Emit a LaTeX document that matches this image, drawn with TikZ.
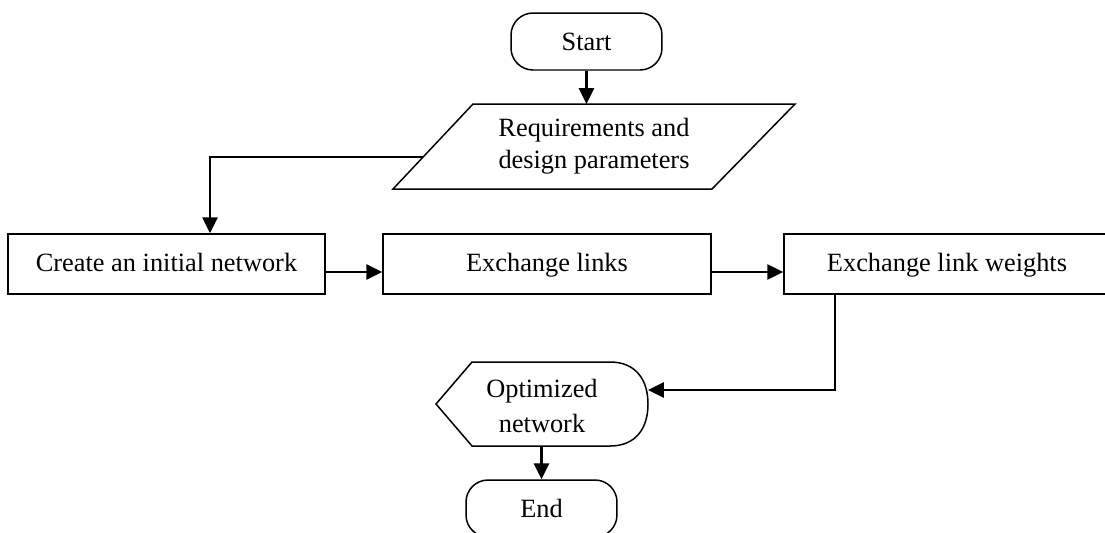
\documentclass[tikz,border=0pt]{standalone}
\usepackage{fontspec}
\setmainfont{Liberation Serif}
\usetikzlibrary{arrows.meta}
\begin{document}
\begin{tikzpicture}[x=0.02cm,y=-0.02cm,
  every node/.style={font=\fontsize{15}{18}\selectfont, align=center},
  box/.style={draw, line width=0.85pt, minimum height=1.2cm, inner sep=0pt, text height=11.5pt, text depth=3.5pt},
  term/.style={draw, line width=0.85pt, rounded corners=0.44cm, minimum width=3.02cm, minimum height=1.14cm, inner sep=0pt},
  shapeline/.style={draw, line width=0.85pt},
  conn/.style={line width=1.4pt, -{Triangle[length=9pt,width=8.5pt]}}]
\useasboundingbox (0,0) rectangle (1105,532);
\clip (0,0) rectangle (1105,532);
% Start / End
\node[term] (start) at (586.5,41.5) {Start};
\node[term] (end) at (541.5,508.5) {End};
% Parallelogram
\path[shapeline] (393,189) -- (473,104) -- (795,104) -- (712,189) -- cycle;
\node (req) at (594,146.5) {Requirements and\\design parameters};
\coordinate (reqtop) at (586.5,104);
\coordinate (reqleft) at (423,157);
% Process boxes
\node[box, minimum width=6.34cm] (create) at (166.5,264) {Create an initial network};
\node[box, minimum width=6.56cm] (links) at (547,264) {Exchange links};
\node[box, minimum width=6.52cm] (weights) at (947,264) {Exchange link weights};
% Display shape
\path[shapeline] (436,404) -- (472,362) -- (610,362)
  .. controls (636,362) and (648,380) .. (648,404)
  .. controls (648,428) and (636,446) .. (610,446)
  -- (472,446) -- cycle;
\node[font=\fontsize{15}{20}\selectfont] (opt) at (542,406) {Optimized\\network};
\coordinate (optin) at (648,390);
\coordinate (optbot) at (541.5,446);
% Connectors
\draw[conn] (start.south) -- (reqtop);
\draw[conn] (reqleft) -| ([xshift=0.87cm]create.north);
\draw[conn] ([yshift=-0.16cm]create.east) -- ([yshift=-0.16cm]links.west);
\draw[conn] ([yshift=-0.16cm]links.east) -- ([yshift=-0.16cm]weights.west);
\draw[conn] ([xshift=-2.24cm]weights.south) |- (optin);
\draw[conn] (optbot) -- (end.north);
\end{tikzpicture}
\end{document}
